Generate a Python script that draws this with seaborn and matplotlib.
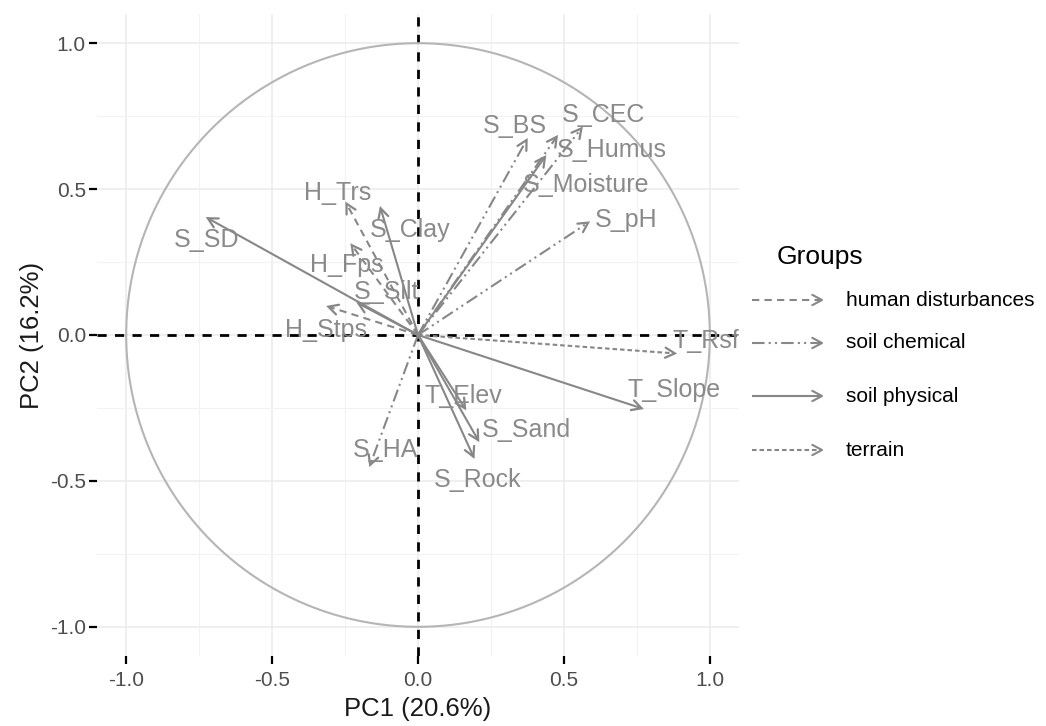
import numpy as np
import pandas as pd
import matplotlib
matplotlib.use("Agg")
import matplotlib.pyplot as plt
from matplotlib.ticker import MultipleLocator
import seaborn as sns

# variable loadings on PC1 / PC2
var_names = ["S_SD", "H_Trs", "S_Clay", "H_Fps", "S_Silt", "H_Stps",
             "S_BS", "S_CEC", "S_Humus", "S_Moisture", "S_pH",
             "T_Rsf", "T_Slope", "T_Elev", "S_Sand", "S_Rock", "S_HA"]
pc1 = [-0.72, -0.245, -0.128, -0.227, -0.204, -0.307,
       0.372, 0.56, 0.475, 0.435, 0.583,
       0.88, 0.766, 0.161, 0.206, 0.19, -0.164]
pc2 = [0.40, 0.45, 0.434, 0.308, 0.108, 0.097,
       0.668, 0.708, 0.679, 0.61, 0.385,
       -0.063, -0.251, -0.251, -0.36, -0.417, -0.445]
var_group = ["soil physical", "human disturbances", "soil physical", "human disturbances",
             "soil physical", "human disturbances",
             "soil chemical", "soil chemical", "soil chemical", "soil physical", "soil chemical",
             "terrain", "soil physical", "soil physical", "soil physical", "soil physical",
             "soil chemical"]
group_names = ["human disturbances", "soil chemical", "soil physical", "terrain"]
pc1_label = "PC1 (20.6%)"
pc2_label = "PC2 (16.2%)"

# label positions relative to arrow tips
label_off = {
    "S_SD": (-0.006, -0.075), "H_Trs": (-0.032, 0.036), "S_Clay": (0.1, -0.074),
    "H_Fps": (-0.016, -0.068), "S_Silt": (0.097, 0.039), "H_Stps": (-0.008, -0.08),
    "S_BS": (-0.04, 0.048), "S_CEC": (0.077, 0.045), "S_Humus": (0.189, -0.045),
    "S_Moisture": (0.14, -0.096), "S_pH": (0.129, 0.009), "T_Rsf": (0.106, 0.043),
    "T_Slope": (0.111, 0.063), "T_Elev": (-0.006, 0.042), "S_Sand": (0.167, 0.035),
    "S_Rock": (0.015, -0.08), "S_HA": (0.051, 0.051),
}

dash_map = {
    "human disturbances": (3.5, 2.5),
    "soil chemical": (6, 2, 1, 2, 1, 2),
    "soil physical": "",
    "terrain": (2.2, 1.4),
}
arrow_col = "#878787"
text_col = "#8a8a8a"


def head_pts(x, y, ux, uy, length, ang=np.deg2rad(28)):
    # open arrow head: two arms going back from the tip
    c, s = np.cos(ang), np.sin(ang)
    a1 = (x - length * (c * ux - s * uy), y - length * (s * ux + c * uy))
    a2 = (x - length * (c * ux + s * uy), y - length * (-s * ux + c * uy))
    return [a1[0], x, a2[0]], [a1[1], y, a2[1]]


sns.set_theme(style="whitegrid")
plt.rcParams["font.family"] = ["Liberation Sans", "DejaVu Sans"]

fig = plt.figure(figsize=(10.46, 7.26), dpi=100)
ax = fig.add_axes([97 / 1046, 70 / 726, 642 / 1046, 642 / 726])

# long form frame: origin -> tip for every variable
rows = []
for n, x, y, g in zip(var_names, pc1, pc2, var_group):
    rows.append({"var": n, "group": g, "x": 0.0, "y": 0.0, "step": 0})
    rows.append({"var": n, "group": g, "x": x, "y": y, "step": 1})
arrows = pd.DataFrame(rows)

# correlation circle
theta = np.linspace(0, 2 * np.pi, 200)
circ = pd.DataFrame({"x": np.cos(theta), "y": np.sin(theta)})
sns.lineplot(data=circ, x="x", y="y", sort=False, estimator=None,
             color="#b5b5b5", lw=1.5, ax=ax)

ax.axhline(0, color="black", lw=2, dashes=(3.3, 3), zorder=1.5)
ax.axvline(0, color="black", lw=2, dashes=(3.3, 3), zorder=1.5)

sns.lineplot(data=arrows, x="x", y="y", units="var", estimator=None, sort=False,
             style="group", dashes=dash_map, color=arrow_col, lw=1.5,
             legend=False, ax=ax, zorder=3)

for n, x, y in zip(var_names, pc1, pc2):
    ux, uy = np.array([x, y]) / np.hypot(x, y)
    hx, hy = head_pts(x, y, ux, uy, 0.037)
    ax.plot(hx, hy, color=arrow_col, lw=1.6, solid_capstyle="round",
            solid_joinstyle="miter", zorder=3)
    dx, dy = label_off[n]
    ax.text(x + dx, y + dy, n, color=text_col, fontsize=18,
            ha="center", va="center", clip_on=False, zorder=4)

ax.set_xlim(-1.1, 1.1)
ax.set_ylim(-1.1, 1.1)
ax.xaxis.set_minor_locator(MultipleLocator(0.25))
ax.yaxis.set_minor_locator(MultipleLocator(0.25))
ax.set_xticks([-1.0, -0.5, 0.0, 0.5, 1.0])
ax.set_yticks([-1.0, -0.5, 0.0, 0.5, 1.0])
ax.set_xticklabels(["-1.0", "-0.5", "0.0", "0.5", "1.0"])
ax.set_yticklabels(["-1.0", "-0.5", "0.0", "0.5", "1.0"])
ax.grid(which="major", color="#ebebeb", lw=1.1)
ax.grid(which="minor", color="#f2f2f2", lw=0.8)
ax.set_axisbelow(True)
for s in ax.spines.values():
    s.set_visible(False)
ax.tick_params(which="major", length=6, width=1.6, color="black",
               labelsize=15, labelcolor="#4d4d4d", bottom=True, left=True)
ax.tick_params(axis="y", pad=2)
ax.tick_params(axis="x", pad=5)
ax.tick_params(which="minor", length=0)
ax.set_xlabel(pc1_label, fontsize=18.5, color="#1a1a1a", labelpad=5)
ax.set_ylabel(pc2_label, fontsize=18.5, color="#1a1a1a", labelpad=4)
ax.set_facecolor("white")

# legend drawn in pixel space on an overlay axes
lax = fig.add_axes([0, 0, 1, 1], facecolor="none")
lax.set_xlim(0, 1046)
lax.set_ylim(726, 0)
lax.axis("off")
lax.text(777, 257, "Groups", fontsize=19, color="black", va="center", ha="left")
row_y = [300, 343, 396, 450]
for g, yy in zip(group_names, row_y):
    d = dash_map[g]
    lax.plot([752, 821], [yy, yy], color=arrow_col, lw=1.5,
             dashes=d if d else (None, None), solid_capstyle="butt")
    hx, hy = head_pts(822, yy, 1.0, 0.0, 11)
    lax.plot(hx, hy, color=arrow_col, lw=1.5, solid_capstyle="round")
    lax.text(846, yy, g, fontsize=15, color="black", va="center", ha="left")

fig.savefig("out.png", dpi=100)
